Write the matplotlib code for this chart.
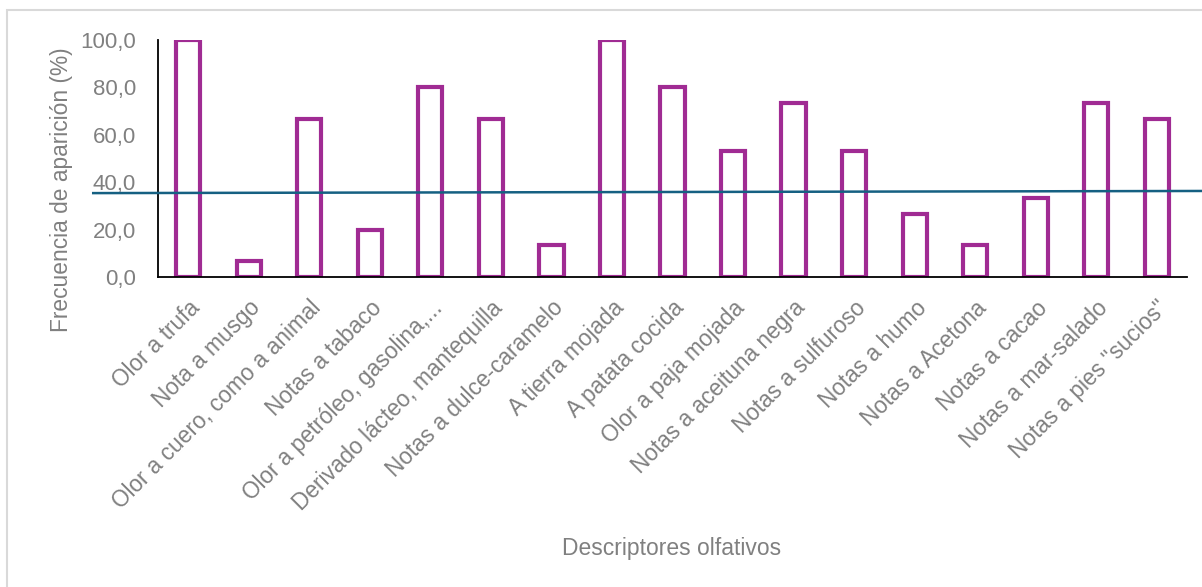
import matplotlib
matplotlib.use("Agg")
import matplotlib.pyplot as plt
from matplotlib.patches import Rectangle
import numpy as np

plt.rcParams['font.family'] = ['Liberation Sans', 'DejaVu Sans']

# data
descriptores = ["Olor a trufa", "Nota a musgo", "Olor a cuero, como a animal",
                "Notas a tabaco", "Olor a petróleo, gasolina,...",
                "Derivado lácteo, mantequilla", "Notas a dulce-caramelo",
                "A tierra mojada", "A patata cocida", "Olor a paja mojada",
                "Notas a aceituna negra", "Notas a sulfuroso", "Notas a humo",
                "Notas a Acetona", "Notas a cacao", "Notas a mar-salado",
                'Notas a pies "sucios"']
frecuencia = [100.0, 6.7, 66.7, 20.0, 80.0, 66.7, 13.3, 100.0, 80.0, 53.3,
              73.3, 53.3, 26.7, 13.3, 33.3, 73.3, 66.7]
umbral_x = [-1.57, 16.76]
umbral_y = [35.4, 36.3]

gris = "#808080"
morado = "#A02B93"
azul = "#156082"

fig = plt.figure(figsize=(12.02, 5.87), dpi=100)
# marco del grafico
fig.patches.append(Rectangle((7/1202, -0.05), 1.1, 1 - 10/587 + 0.05,
                             transform=fig.transFigure, fill=False,
                             edgecolor="#d9d9d9", linewidth=1.5))
ax = fig.add_axes([158/1202, 1 - 277/587, (1187 - 158)/1202, (277 - 40)/587])

x = np.arange(len(descriptores))
ax.bar(x, frecuencia, width=0.4, facecolor="white", edgecolor=morado,
       linewidth=3, zorder=2)
ax.plot(umbral_x, umbral_y, color=azul, linewidth=1.8, clip_on=False, zorder=3)

ax.set_xlim(-0.5, len(descriptores) - 0.5)
ax.set_ylim(0, 100)
ax.set_yticks(np.arange(0, 101, 20))
ax.set_yticklabels([f"{v:.1f}".replace(".", ",") for v in np.arange(0, 101, 20)])
ax.set_xticks(x)
ax.set_xticklabels(descriptores, rotation=45, ha="right",
                   rotation_mode="anchor")

for s in ["top", "right"]:
    ax.spines[s].set_visible(False)
for s in ["left", "bottom"]:
    ax.spines[s].set_color("black")
    ax.spines[s].set_linewidth(1.3)
ax.tick_params(axis="y", length=0, pad=16, labelsize=16, labelcolor=gris)
ax.tick_params(axis="x", length=0, pad=14, labelsize=16.3, labelcolor=gris)

ax.set_ylabel("Frecuencia de aparición (%)", color=gris, fontsize=16.4)
ax.yaxis.set_label_coords(-0.083, 0.37)
fig.text(672/1202, 1 - 548/587, "Descriptores olfativos", color=gris,
         fontsize=16.5, ha="center", va="center")

fig.savefig("out.png", dpi=100)
